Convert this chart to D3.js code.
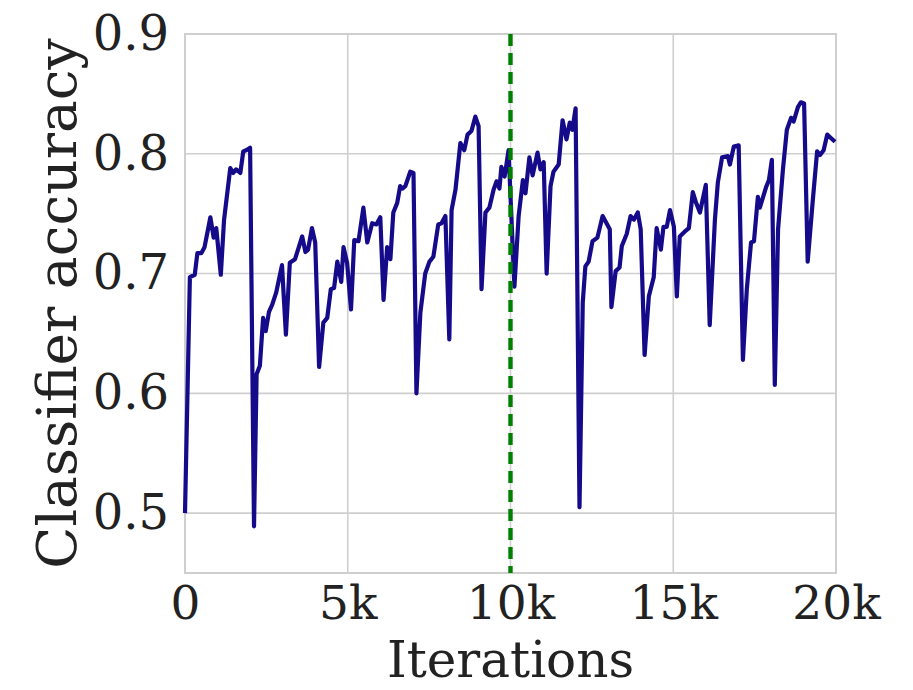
<!DOCTYPE html>
<html>
<head>
<meta charset="utf-8">
<script src="https://cdn.jsdelivr.net/npm/d3@7"></script>
<style>
  body { margin: 0; background: #fff; }
  text { font-family: "DejaVu Serif", serif; fill: #222; }
</style>
</head>
<body>
<script>
// iterations (x) and classifier accuracy (y)
const iterations = [0, 150, 300, 380, 500, 600, 780, 880, 960, 1100, 1200, 1390, 1480, 1570, 1700, 1790, 1880, 2000,
  2120, 2200, 2300, 2400, 2480, 2580, 2680, 2800, 2980, 3100, 3220, 3380, 3600, 3700, 3780, 3900, 4000,
  4120, 4250, 4370, 4480, 4580, 4680, 4800, 4870, 4980, 5100, 5200, 5330, 5480, 5600, 5750, 5880, 6000,
  6100, 6210, 6310, 6400, 6520, 6610, 6680, 6770, 6920, 7020, 7110, 7230, 7380, 7510, 7630, 7780, 7880, 8000,
  8120, 8190, 8310, 8460, 8580, 8680, 8800, 8920, 9020, 9110, 9230, 9350, 9480, 9570, 9660, 9720, 9820, 9940,
  10120, 10250, 10380, 10460, 10580, 10680, 10830, 10920, 11020, 11110, 11230, 11320, 11480, 11600, 11720, 11820, 11900, 12000,
  12120, 12220, 12300, 12400, 12520, 12670, 12830, 13050, 13100, 13230, 13350, 13420, 13570, 13690, 13790, 13910, 14000,
  14120, 14250, 14400, 14490, 14620, 14700, 14800, 14900, 15020, 15110, 15200, 15350, 15480, 15600, 15690, 15820, 16000,
  16120, 16280, 16370, 16500, 16680, 16740, 16860, 17010, 17140, 17260, 17390, 17480, 17600, 17660, 17750, 17850, 17940, 18030,
  18120, 18220, 18370, 18490, 18620, 18700, 18830, 18920, 19020, 19130, 19290, 19420, 19510, 19620, 19730, 19850, 19970];

const accuracy = [0.500, 0.697, 0.699, 0.717, 0.717, 0.722, 0.747, 0.730, 0.738, 0.699, 0.745, 0.788, 0.784, 0.787, 0.784, 0.802, 0.803, 0.805,
  0.489, 0.616, 0.623, 0.663, 0.652, 0.668, 0.674, 0.684, 0.707, 0.649, 0.709, 0.712, 0.731, 0.718, 0.720, 0.738, 0.726,
  0.622, 0.659, 0.663, 0.687, 0.688, 0.710, 0.693, 0.722, 0.709, 0.670, 0.728, 0.727, 0.755, 0.726, 0.742, 0.741, 0.747,
  0.678, 0.722, 0.712, 0.751, 0.759, 0.773, 0.771, 0.773, 0.785, 0.784, 0.600, 0.667, 0.700, 0.710, 0.714, 0.741, 0.742, 0.748,
  0.645, 0.753, 0.770, 0.809, 0.803, 0.816, 0.819, 0.831, 0.823, 0.687, 0.751, 0.755, 0.770, 0.777, 0.771, 0.789, 0.781, 0.803,
  0.689, 0.748, 0.778, 0.767, 0.797, 0.782, 0.801, 0.787, 0.793, 0.700, 0.773, 0.785, 0.791, 0.828, 0.812, 0.826, 0.820, 0.838,
  0.505, 0.676, 0.706, 0.710, 0.727, 0.730, 0.748, 0.737, 0.672, 0.702, 0.705, 0.723, 0.733, 0.748, 0.745, 0.751, 0.737,
  0.632, 0.681, 0.697, 0.738, 0.720, 0.739, 0.739, 0.753, 0.739, 0.681, 0.731, 0.735, 0.738, 0.768, 0.760, 0.751, 0.774,
  0.657, 0.745, 0.776, 0.797, 0.798, 0.791, 0.806, 0.807, 0.628, 0.687, 0.726, 0.727, 0.764, 0.755, 0.763, 0.772, 0.778, 0.795,
  0.607, 0.737, 0.787, 0.820, 0.830, 0.827, 0.839, 0.843, 0.842, 0.710, 0.762, 0.802, 0.799, 0.803, 0.816, 0.813, 0.810];

const xTicks = [0, 5000, 10000, 15000, 20000];
const xTickLabels = ["0", "5k", "10k", "15k", "20k"];
const yTicks = [0.5, 0.6, 0.7, 0.8, 0.9];
const marker = 10000;

const W = 913, H = 690;
const margin = {top: 34, right: 77, bottom: 117, left: 185};

const svg = d3.select("body").append("svg")
  .attr("width", W)
  .attr("height", H);

const x = d3.scaleLinear().domain([0, 20000]).range([margin.left, W - margin.right]);
const y = d3.scaleLinear().domain([0.45, 0.9]).range([H - margin.bottom, margin.top]);

// grid
svg.append("g")
  .selectAll("line.gx")
  .data(xTicks)
  .enter().append("line")
  .attr("x1", d => x(d)).attr("x2", d => x(d))
  .attr("y1", y(0.45)).attr("y2", y(0.9))
  .attr("stroke", "#cfcfcf").attr("stroke-width", 1.6);

svg.append("g")
  .selectAll("line.gy")
  .data(yTicks)
  .enter().append("line")
  .attr("x1", x(0)).attr("x2", x(20000))
  .attr("y1", d => y(d)).attr("y2", d => y(d))
  .attr("stroke", "#cfcfcf").attr("stroke-width", 1.6);

// frame
svg.append("rect")
  .attr("x", x(0)).attr("y", y(0.9))
  .attr("width", x(20000) - x(0)).attr("height", y(0.45) - y(0.9))
  .attr("fill", "none").attr("stroke", "#cfcfcf").attr("stroke-width", 2);

// axes (text only, like the reference)
const xAxis = d3.axisBottom(x).tickValues(xTicks)
  .tickFormat((d, i) => xTickLabels[i]).tickSize(0).tickPadding(13);
svg.append("g")
  .attr("transform", `translate(0,${y(0.45)})`)
  .call(xAxis)
  .call(g => g.select(".domain").remove())
  .selectAll("text")
  .style("font-family", "DejaVu Serif, serif")
  .style("font-size", "47px")
  .attr("fill", "#222");

const yAxis = d3.axisLeft(y).tickValues(yTicks)
  .tickFormat(d3.format(".1f")).tickSize(0).tickPadding(16);
svg.append("g")
  .attr("transform", `translate(${x(0)},0)`)
  .call(yAxis)
  .call(g => g.select(".domain").remove())
  .selectAll("text")
  .style("font-family", "DejaVu Serif, serif")
  .style("font-size", "48px")
  .attr("fill", "#222");

// the curve
const pts = iterations.map((it, i) => [it, accuracy[i]]);
const line = d3.line().x(d => x(d[0])).y(d => y(d[1]));

svg.append("path")
  .datum(pts)
  .attr("d", line)
  .attr("fill", "none")
  .attr("stroke", "#150b8a")
  .attr("stroke-width", 4.2)
  .attr("stroke-linejoin", "round");

// dashed marker
svg.append("line")
  .attr("x1", x(marker)).attr("x2", x(marker))
  .attr("y1", y(0.9)).attr("y2", y(0.45))
  .attr("stroke", "#008000")
  .attr("stroke-width", 4.4)
  .attr("stroke-dasharray", "12,7");

// labels
svg.append("text")
  .attr("x", (x(0) + x(20000)) / 2)
  .attr("y", 677)
  .attr("text-anchor", "middle")
  .style("font-size", "50px")
  .text("Iterations");

svg.append("text")
  .attr("transform", `translate(76,${(y(0.9) + y(0.45)) / 2}) rotate(-90)`)
  .attr("text-anchor", "middle")
  .style("font-size", "55px")
  .text("Classifier accuracy");
</script>
</body>
</html>
